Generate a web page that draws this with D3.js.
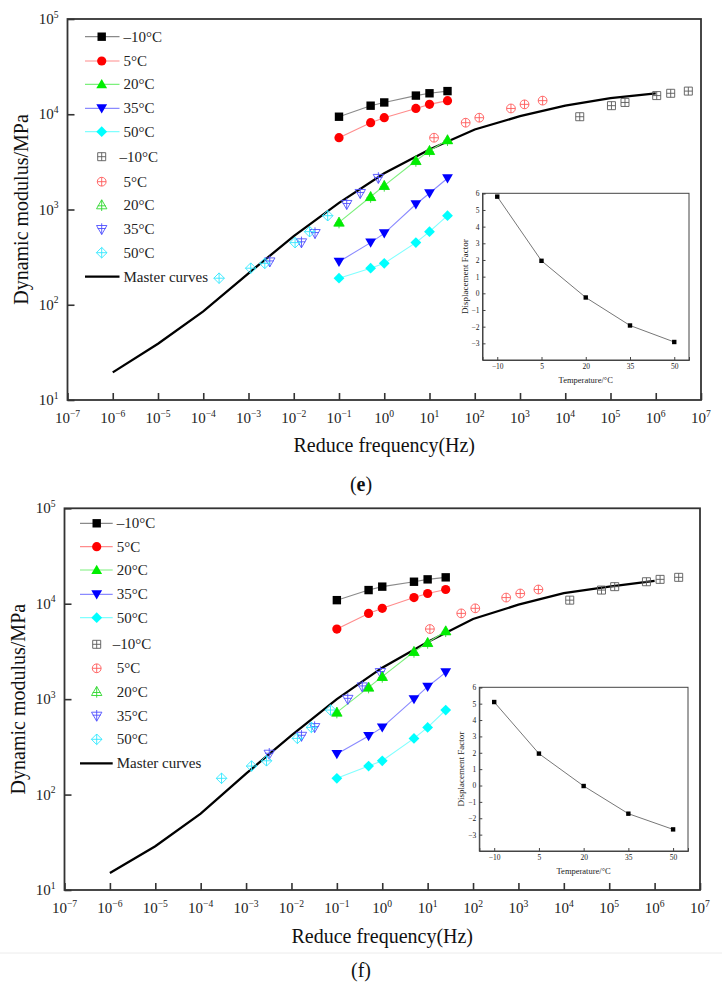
<!DOCTYPE html>
<html><head><meta charset="utf-8">
<script src="https://cdn.jsdelivr.net/npm/d3@7"></script>
<style>body{margin:0;background:#fff}svg{display:block;font-family:"Liberation Serif","Times New Roman",serif}</style>
</head><body><svg id="c" width="722" height="994"></svg>
<script>
// ---------------- data ----------------
const tempLabels = ["–10°C","5°C","20°C","35°C","50°C"];
const testFreq = [0.1, 0.5, 1, 5, 10, 25];
const xTickExp = [-7,-6,-5,-4,-3,-2,-1,0,1,2,3,4,5,6,7];
const yTickExp = [1,2,3,4,5];
const masterFreq = [1e-6,1e-5,1e-4,1e-3,1e-2,1e-1,1,10,100,1e3,1e4,1e5,1e6];
const insetTemps = [-10, 5, 20, 35, 50];
const insetYTicks = [-3,-2,-1,0,1,2,3,4,5,6];

// panel (e)
const eMod_m10 = [9420, 12300, 13300, 15700, 16600, 17500];
const eMod_5   = [5670, 8150, 9200, 11500, 12700, 13900];
const eMod_20  = [733, 1360, 1780, 3250, 4140, 5370];
const eMod_35  = [283, 449, 562, 1135, 1480, 2130];
const eMod_50  = [190, 242, 272, 449, 585, 861];
const eRed_m10 = [2.09e4, 1.05e5, 2.09e5, 1.05e6, 2.14e6, 5.25e6];
const eRed_5   = [12.6, 63, 126, 631, 1259, 3162];
const eRed_20  = [0.1, 0.5, 1, 5, 10, 25];
const eRed_35  = [2.95e-3, 1.48e-2, 2.95e-2, 0.148, 0.295, 0.741];
const eRed_50  = [2.24e-4, 1.12e-3, 2.29e-3, 1.07e-2, 2.24e-2, 5.62e-2];
const eMaster  = [19.5, 38.9, 85.1, 214, 525, 1175, 2399, 4266, 6918, 9550, 12300, 14800, 16600];
const eShift   = [5.8, 1.95, -0.25, -1.93, -2.92];

// panel (f)
const fMod_m10 = [10900, 13900, 15100, 17000, 18000, 18900];
const fMod_5   = [5430, 7920, 8950, 11600, 12800, 14100];
const fMod_20  = [727, 1330, 1720, 3140, 3900, 5170];
const fMod_35  = [266, 410, 506, 1000, 1350, 1910];
const fMod_50  = [148, 199, 226, 388, 506, 769];
const fRed_m10 = [1.35e4, 6.76e4, 1.32e5, 6.61e5, 1.32e6, 3.39e6];
const fRed_5   = [11.2, 55, 112, 537, 1096, 2754];
const fRed_20  = [0.1, 0.5, 1, 5, 10, 25];
const fRed_35  = [3.24e-3, 1.66e-2, 3.24e-2, 0.174, 0.363, 0.912];
const fRed_50  = [2.88e-4, 1.32e-3, 2.82e-3, 1.35e-2, 2.75e-2, 7.24e-2];
const fMaster  = [15.1, 28.8, 63.1, 166, 417, 1000, 2138, 3981, 6918, 9772, 12880, 15140, 17380];
const fShift   = [5.1, 1.95, -0.03, -1.72, -2.68];

// ---------------- styles ----------------
const fillColors = ["#000000","#ff0000","#00ee00","#0000ff","#00ffff"];
const lineColors = ["#8a8a8a","#ff8c8c","#7cf07c","#8a8aff","#80ffff"];
const openColors = ["#5a5a5a","#ff5a5a","#30d830","#5050ff","#30e8ff"];

const svg = d3.select("#c");
svg.append("rect").attr("width",722).attr("height",994).attr("fill","#fff");

function filledPath(k){
  switch(k){
    case 0: return "M-4.2,-4.2H4.2V4.2H-4.2Z";
    case 1: return "M-4.6,0A4.6,4.6 0 1,0 4.6,0A4.6,4.6 0 1,0 -4.6,0Z";
    case 2: return "M0,-5.2L5.4,4L-5.4,4Z";
    case 3: return "M0,5.2L5.4,-4L-5.4,-4Z";
    default: return "M0,-5.4L5.4,0L0,5.4L-5.4,0Z";
  }
}
function openPath(k){
  switch(k){
    case 0: return "M-4,-4H4V4H-4ZM-4,0H4M0,-4V4";
    case 1: return "M-4.4,0A4.4,4.4 0 1,0 4.4,0A4.4,4.4 0 1,0 -4.4,0ZM-4.4,0H4.4M0,-4.4V4.4";
    case 2: return "M0,-5.2L5.2,3.8L-5.2,3.8ZM0,-5.2V6M-4,0.8H4";
    case 3: return "M0,5.2L5.2,-3.8L-5.2,-3.8ZM0,5.2V-6M-4,-0.8H4";
    default: return "M0,-5.3L5.3,0L0,5.3L-5.3,0ZM-5.3,0H5.3M0,-5.3V5.3";
  }
}

function supText(g, x, y, exp, size, anchor){
  const t = g.append("text").attr("x",x).attr("y",y).attr("text-anchor",anchor)
    .attr("font-size",size).attr("fill","#222");
  t.append("tspan").text("10");
  t.append("tspan").attr("dy",-size*0.42).attr("font-size",size*0.64)
    .text(exp < 0 ? "−" + Math.abs(exp) : String(exp));
  return t;
}

function panel(cfg){
  const g = svg.append("g");
  const x = d3.scaleLog().domain([1e-7,1e7]).range([cfg.left,cfg.right]);
  const y = d3.scaleLog().domain([10,1e5]).range([cfg.bottom,cfg.top]);

  // axes (inward ticks)
  const gx = g.append("g").attr("transform",`translate(0,${cfg.bottom})`)
    .call(d3.axisBottom(x).tickValues(xTickExp.map(e=>Math.pow(10,e))).tickSize(-7).tickFormat(""));
  gx.select(".domain").remove();
  gx.selectAll("line").attr("stroke","#333").attr("stroke-width",1.6);
  const gy = g.append("g").attr("transform",`translate(${cfg.left},0)`)
    .call(d3.axisLeft(y).tickValues(yTickExp.map(e=>Math.pow(10,e))).tickSize(-7).tickFormat(""));
  gy.select(".domain").remove();
  gy.selectAll("line").attr("stroke","#333").attr("stroke-width",1.6);

  xTickExp.forEach(e => supText(g, x(Math.pow(10,e)), cfg.bottom+23, e, 15, "middle"));
  yTickExp.forEach(e => supText(g, cfg.left-9, y(Math.pow(10,e))+5, e, 15, "end"));

  g.append("rect").attr("x",cfg.left).attr("y",cfg.top)
    .attr("width",cfg.right-cfg.left).attr("height",cfg.bottom-cfg.top)
    .attr("fill","none").attr("stroke","#333").attr("stroke-width",1.8);

  g.append("text").attr("x",(cfg.left+cfg.right)/2).attr("y",cfg.xTitleY)
    .attr("text-anchor","middle").attr("font-size",20).attr("fill","#111")
    .text("Reduce frequency(Hz)");
  g.append("text").attr("transform",`translate(${cfg.left-40},${(cfg.top+cfg.bottom)/2}) rotate(-90)`)
    .attr("text-anchor","middle").attr("font-size",20).attr("fill","#111")
    .text("Dynamic modulus/MPa");

  // master curve
  const line = d3.line().x(d=>x(d[0])).y(d=>y(d[1]));
  g.append("path").datum(d3.zip(masterFreq, cfg.master))
    .attr("d",line).attr("fill","none").attr("stroke","#000").attr("stroke-width",2.3);

  // measured series (filled, lines)
  cfg.mods.forEach((mod,k)=>{
    const pts = d3.zip(testFreq, mod);
    g.append("path").datum(pts).attr("d",line).attr("fill","none")
      .attr("stroke",lineColors[k]).attr("stroke-width",1.1);
  });
  // shifted series (open)
  cfg.mods.forEach((mod,k)=>{
    const pts = d3.zip(cfg.reds[k], mod);
    g.selectAll(null).data(pts).join("path")
      .attr("transform",d=>`translate(${x(d[0])},${y(d[1])})`)
      .attr("d",openPath(k)).attr("fill","none").attr("stroke",openColors[k]).attr("stroke-width",0.9);
  });
  cfg.mods.forEach((mod,k)=>{
    const pts = d3.zip(testFreq, mod);
    g.selectAll(null).data(pts).join("path")
      .attr("transform",d=>`translate(${x(d[0])},${y(d[1])})`)
      .attr("d",filledPath(k)).attr("fill",fillColors[k]);
  });

  // legend
  const L = cfg.leg;
  for(let k=0;k<5;k++){
    const yy = L.ys[k];
    g.append("line").attr("x1",L.l1).attr("x2",L.l2).attr("y1",yy).attr("y2",yy)
      .attr("stroke",lineColors[k]).attr("stroke-width",1.2);
    g.append("path").attr("transform",`translate(${L.m},${yy})`).attr("d",filledPath(k)).attr("fill",fillColors[k]);
    g.append("text").attr("x",L.t).attr("y",yy+5).attr("font-size",15).attr("fill","#222").text(tempLabels[k]);
  }
  for(let k=0;k<5;k++){
    const yy = L.ys[k+5];
    g.append("path").attr("transform",`translate(${L.m},${yy})`).attr("d",openPath(k))
      .attr("fill","none").attr("stroke",openColors[k]).attr("stroke-width",0.9);
    g.append("text").attr("x",L.t-(k===0?4:0)).attr("y",yy+5).attr("font-size",15).attr("fill","#222").text(tempLabels[k]);
  }
  g.append("line").attr("x1",L.l1).attr("x2",L.l2).attr("y1",L.ys[10]).attr("y2",L.ys[10])
    .attr("stroke","#000").attr("stroke-width",2.3);
  g.append("text").attr("x",L.t).attr("y",L.ys[10]+5).attr("font-size",15).attr("fill","#222").text("Master curves");

  // inset
  const I = cfg.inset;
  const ix = d3.scaleLinear().domain([-15,55]).range([I.left,I.right]);
  const iy = d3.scaleLinear().domain([-4,6]).range([I.bottom,I.top]);
  g.append("rect").attr("x",I.left).attr("y",I.top).attr("width",I.right-I.left).attr("height",I.bottom-I.top)
    .attr("fill","#fff").attr("stroke","#444").attr("stroke-width",1);
  const ax = g.append("g").attr("transform",`translate(0,${I.bottom})`)
    .call(d3.axisBottom(ix).tickValues(insetTemps).tickSize(-3).tickPadding(4));
  const ay = g.append("g").attr("transform",`translate(${I.left},0)`)
    .call(d3.axisLeft(iy).tickValues(insetYTicks).tickSize(-3).tickPadding(3));
  [ax,ay].forEach(a=>{
    a.select(".domain").attr("stroke","#444");
    a.selectAll("line").attr("stroke","#444");
    a.selectAll("text").attr("font-family","Liberation Serif, serif").attr("font-size",7.5).attr("fill","#222");
  });
  g.append("text").attr("x",ix(20)).attr("y",I.bottom+23).attr("text-anchor","middle")
    .attr("font-size",8.5).attr("fill","#222").text("Temperature/°C");
  g.append("text").attr("transform",`translate(${I.left-15},${(I.top+I.bottom)/2}) rotate(-90)`)
    .attr("text-anchor","middle").attr("font-size",9).attr("fill","#222").text("Displacement Factor");
  const ipts = d3.zip(insetTemps, cfg.shift);
  g.append("path").datum(ipts).attr("d",d3.line().x(d=>ix(d[0])).y(d=>iy(d[1])))
    .attr("fill","none").attr("stroke","#777").attr("stroke-width",1);
  g.selectAll(null).data(ipts).join("rect")
    .attr("x",d=>ix(d[0])-2.2).attr("y",d=>iy(d[1])-2.2).attr("width",4.4).attr("height",4.4).attr("fill","#000");

  // tag
  const tg = g.append("text").attr("x",361).attr("y",cfg.tagY).attr("text-anchor","middle").attr("font-size",20).attr("fill","#111");
  tg.append("tspan").text("(");
  tg.append("tspan").attr("font-weight", cfg.tagBold ? "bold" : "normal").text(cfg.tag);
  tg.append("tspan").text(")");
}

panel({
  left:67.5, right:701, top:19, bottom:400, xTitleY:452, tagY:491, tag:"e", tagBold:true,
  mods:[eMod_m10,eMod_5,eMod_20,eMod_35,eMod_50],
  reds:[eRed_m10,eRed_5,eRed_20,eRed_35,eRed_50],
  master:eMaster, shift:eShift,
  leg:{ys:[36.7,61,84.3,108.3,131.7,156.7,181.7,205,229.3,252.7,276.7], l1:85, l2:119.5, m:101.7, t:123.5},
  inset:{left:482.5, right:689, top:193.3, bottom:360}
});
panel({
  left:64.5, right:700, top:508.3, bottom:890, xTitleY:943, tagY:977, tag:"f", tagBold:false,
  mods:[fMod_m10,fMod_5,fMod_20,fMod_35,fMod_50],
  reds:[fRed_m10,fRed_5,fRed_20,fRed_35,fRed_50],
  master:fMaster, shift:fShift,
  leg:{ys:[523.3,546.7,570,594.3,617.7,644.3,668.3,691.7,716,739.3,763.3], l1:80, l2:112.7, m:96.7, t:116.7},
  inset:{left:479.3, right:688, top:687.3, bottom:851}
});
svg.append("line").attr("x1",0).attr("x2",722).attr("y1",953).attr("y2",953).attr("stroke","#ececec").attr("stroke-width",1);
</script>
</body></html>
